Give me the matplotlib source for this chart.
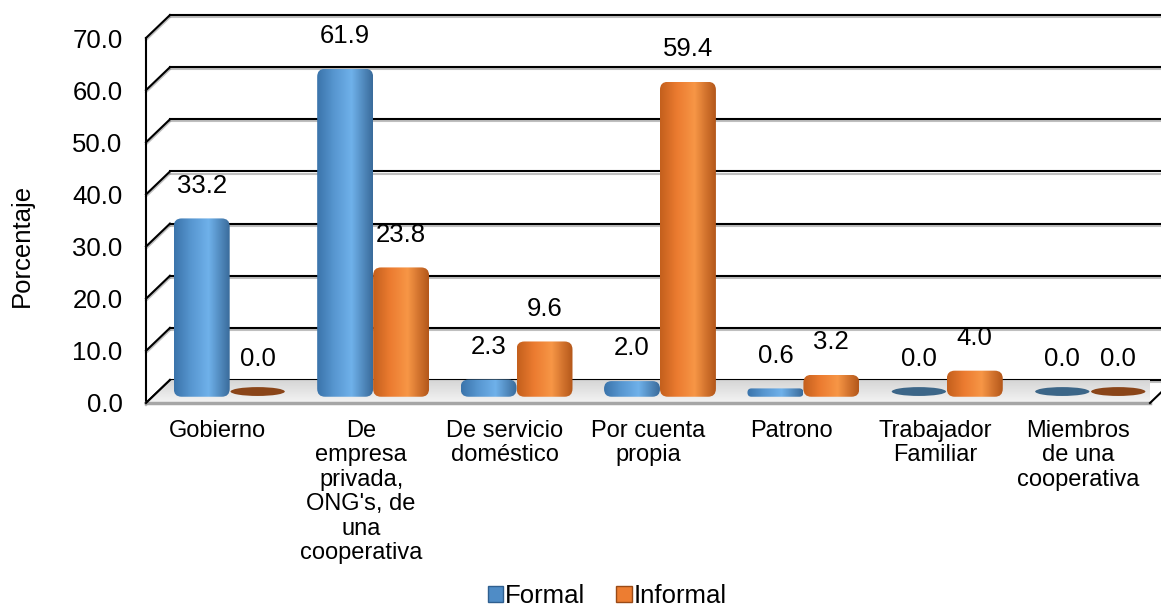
import matplotlib
matplotlib.use("Agg")
import matplotlib.pyplot as plt
import matplotlib.patheffects as pe
from matplotlib.colors import LinearSegmentedColormap
from matplotlib.patches import FancyBboxPatch, Ellipse, Polygon, Patch
import numpy as np

plt.rcParams['font.family'] = ['Liberation Sans', 'DejaVu Sans']

# datos
categorias = ["Gobierno",
              "De\nempresa\nprivada,\nONG's, de\nuna\ncooperativa",
              "De servicio\ndoméstico",
              "Por cuenta\npropia",
              "Patrono",
              "Trabajador\nFamiliar",
              "Miembros\nde una\ncooperativa"]
formal = [33.2, 61.9, 2.3, 2.0, 0.6, 0.0, 0.0]
informal = [0.0, 23.8, 9.6, 59.4, 3.2, 4.0, 0.0]
y_ticks = [0, 10, 20, 30, 40, 50, 60, 70]
y_tick_labels = ["0.0", "10.0", "20.0", "30.0", "40.0", "50.0", "60.0", "70.0"]

FS = 18.5      # ejes, etiquetas de datos, leyenda
FS_CAT = 17    # categorias
W, H = 1161, 614
n = len(categorias)

# profundidad del "3D" en unidades de datos
dx = 0.167
dy = 4.4

cmap_azul = LinearSegmentedColormap.from_list(
    'azul', [(0, '#3b74ab'), (0.3, '#5796d0'), (0.62, '#6fb1ea'), (1, '#3a6c9c')])
cmap_naranja = LinearSegmentedColormap.from_list(
    'naranja', [(0, '#c4601d'), (0.3, '#eb7b30'), (0.62, '#f79646'), (1, '#b4571a')])

fig = plt.figure(figsize=(W / 100, H / 100), dpi=100)
ax = fig.add_axes([146 / W, (H - 403) / H, (1150 - 146) / W, 365 / H])
ax.set_facecolor('none')
for s in ax.spines.values():
    s.set_visible(False)

grid_fx = [pe.SimpleLineShadow(offset=(0, -1.5), shadow_color='gray', alpha=0.5), pe.Normal()]

# pared del fondo y lateral izquierdo
for v in y_ticks:
    ax.plot([dx, n + dx], [v + dy, v + dy], color='black', lw=1.5, zorder=1,
            clip_on=False, path_effects=grid_fx)
    ax.plot([0, dx], [v, v + dy], color='black', lw=1.5, zorder=1,
            clip_on=False, path_effects=grid_fx)
ax.plot([0, 0], [0, y_ticks[-1]], color='black', lw=1.5, zorder=1, clip_on=False)

# piso
grad_v = np.linspace(0, 1, 32).reshape(-1, 1)
piso = Polygon([(0, 0), (n, 0), (n + dx, dy), (dx, dy)], closed=True,
               fc='none', ec='none')
ax.add_patch(piso)
im = ax.imshow(grad_v, extent=[0, n + dx, 0, dy], origin='lower', aspect='auto',
               cmap=LinearSegmentedColormap.from_list('piso', ['#f4f4f4', '#d6d6d6']),
               zorder=1.5)
im.set_clip_path(piso)
ax.plot([0, n], [0, 0], color='#a6a6a6', lw=2.5, zorder=1.6, clip_on=False)
ax.plot([n, n + dx], [0, dy], color='black', lw=1.5, zorder=1.6, clip_on=False)
ax.plot([0, dx], [0, dy], color='black', lw=1.5, zorder=1.6, clip_on=False)

grad_h = np.linspace(0, 1, 64).reshape(1, -1)
ancho = 0.39
base = dy / 2 - 1.0


def dibujar_barra(x, valor, cmap, color_cero):
    top = valor + dy / 2
    if valor == 0:
        ax.add_patch(Ellipse((x, dy / 2), ancho * 0.97, 1.7, fc=color_cero,
                             ec='none', zorder=3))
    else:
        asp = 28
        r = min(0.055, (top - base) / asp / 2 * 0.98)
        p = FancyBboxPatch((x - ancho / 2, base), ancho, top - base,
                           boxstyle=f"round,pad=0,rounding_size={r}",
                           mutation_aspect=asp, fc='none', ec='none')
        ax.add_patch(p)
        img = ax.imshow(grad_h, extent=[x - ancho / 2, x + ancho / 2, base, top],
                        aspect='auto', cmap=cmap, zorder=3)
        img.set_clip_path(p)
    ax.text(x, top + 6.3, f"{valor:.1f}", ha='center', va='center',
            fontsize=FS, zorder=4)


for i in range(n):
    c = i + 0.5 + dx / 2
    dibujar_barra(c - ancho / 2, formal[i], cmap_azul, '#3c6688')
    dibujar_barra(c + ancho / 2, informal[i], cmap_naranja, '#8a4519')

ax.set_xlim(0, n)
ax.set_ylim(0, y_ticks[-1])
ax.set_yticks(y_ticks)
ax.set_yticklabels(y_tick_labels, fontsize=FS)
ax.set_xticks(np.arange(n) + 0.5)
ax.set_xticklabels(categorias, fontsize=FS_CAT, linespacing=1.15)
ax.tick_params(axis='y', length=0, pad=17)
ax.tick_params(axis='x', length=0, pad=12)

fig.text(22 / W, 1 - 245 / H, "Porcentaje", rotation=90, ha='center', va='center',
         fontsize=FS)

handles = [Patch(facecolor='#4f8cc6', edgecolor='#2f5f8f', label='Formal'),
           Patch(facecolor='#ed7d31', edgecolor='#9a4a16', label='Informal')]
fig.legend(handles=handles, loc='lower center', bbox_to_anchor=(0.523, -0.028), ncol=2,
           frameon=False, fontsize=FS, handlelength=0.6, handleheight=0.6,
           handletextpad=0.08, columnspacing=1.2)

fig.savefig('out.png', dpi=100)
